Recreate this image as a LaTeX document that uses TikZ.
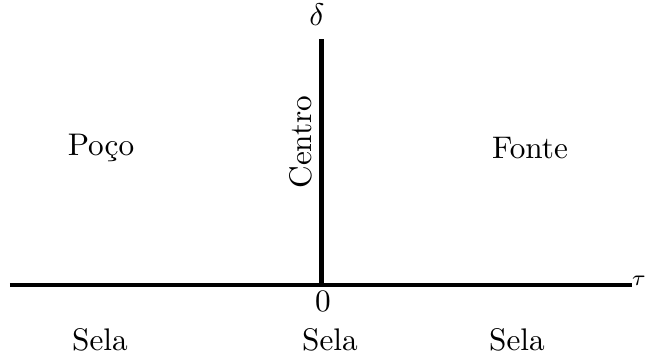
\documentclass[tikz,border=0pt]{standalone}
\begin{document}
\begin{tikzpicture}[x=0.32pt,y=-0.32pt]
            \useasboundingbox (0,0) rectangle (651,358);
            % Define the coordinates for the axes
            \coordinate (L) at (10,285);
            \coordinate (R) at (632,285);
            \coordinate (O) at (321.5,285);
            \coordinate (T) at (321.5,39);

            % Draw the axes
            \draw[line width=1.3pt] (L) -- (R);
            \draw[line width=1.3pt] (O) -- (T);

            % Add axis labels
            \node[font=\scriptsize] (tau) at (639,281) {$\tau$};
            \node (delta) at (317,15) {$\delta$};
            \node (zero) at (323,301) {0};

            % Add region labels
            \node (poco) at (101,148) {Poço};
            \node (fonte) at (530,148) {Fonte};
            \node[rotate=90] (centro) at (301,142) {Centro};
            \node (selaL) at (100,340) {Sela};
            \node (selaC) at (330,340) {Sela};
            \node (selaR) at (517,340) {Sela};

        \end{tikzpicture}
\end{document}
